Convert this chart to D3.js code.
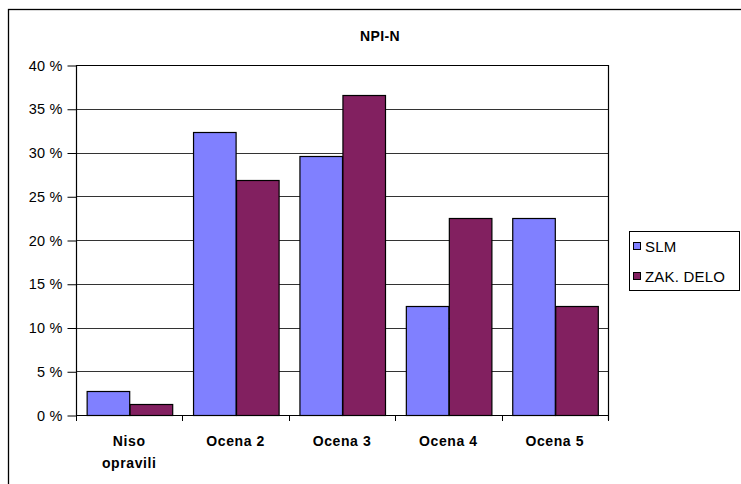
<!DOCTYPE html>
<head>
  <meta charset="utf-8">
  <script src="https://d3js.org/d3.v7.min.js"></script>
  <style>
    body { margin: 0; background: #fff; font-family: Arial, "Liberation Sans", sans-serif; }
    .title { font-size: 14px; font-weight: bold; letter-spacing: 0.4px; }
    .ytick { font-size: 14.5px; letter-spacing: 0.2px; }
    .xlabel { font-size: 14px; font-weight: bold; letter-spacing: 0.6px; }
    .legend text { font-size: 15px; letter-spacing: 0.2px; }
  </style>
</head>
<body>
  <div id="vis"></div>
  <script>
    // data
    var categories = [["Niso", "opravili"], ["Ocena 2"], ["Ocena 3"], ["Ocena 4"], ["Ocena 5"]];
    var seriesNames = ["SLM", "ZAK. DELO"];
    var slm = [2.7, 32.4, 29.6, 12.5, 22.5];
    var zakDelo = [1.3, 26.9, 36.6, 22.5, 12.5];
    var yTicks = [0, 5, 10, 15, 20, 25, 30, 35, 40];
    var colors = ["#8080ff", "#822060"];

    var width = 741, height = 484;
    var plot = { left: 76, right: 608, top: 65, bottom: 415 };

    var svg = d3.select("#vis").append("svg")
      .attr("width", width)
      .attr("height", height);

    // outer chart border
    svg.append("rect")
      .attr("x", 8.5).attr("y", 9.5)
      .attr("width", 800).attr("height", 600)
      .attr("fill", "#fff")
      .attr("stroke", "#000")
      .attr("stroke-width", 1.3);

    svg.append("text")
      .attr("class", "title")
      .attr("x", 380).attr("y", 41)
      .attr("text-anchor", "middle")
      .text("NPI-N");

    var x = d3.scaleBand()
      .domain(d3.range(categories.length))
      .range([plot.left, plot.right])
      .paddingInner(0.2)
      .paddingOuter(0.1);

    var xSub = d3.scaleBand()
      .domain(d3.range(seriesNames.length))
      .range([0, x.bandwidth()]);

    var y = d3.scaleLinear()
      .domain([0, 40])
      .range([plot.bottom, plot.top]);

    // gridlines
    svg.append("g")
      .selectAll("line")
      .data(yTicks.slice(1, -1))
      .enter().append("line")
      .attr("x1", plot.left).attr("x2", plot.right)
      .attr("y1", function (d) { return Math.round(y(d)) + 0.5; })
      .attr("y2", function (d) { return Math.round(y(d)) + 0.5; })
      .attr("stroke", "#333")
      .attr("stroke-width", 1);

    // y axis
    var yAxis = svg.append("g")
      .attr("transform", "translate(" + (plot.left + 0.5) + ",0.5)")
      .call(d3.axisLeft(y).tickValues(yTicks).tickSize(9).tickPadding(5)
        .tickFormat(function (d) { return d + " %"; }));
    yAxis.select(".domain").remove();
    yAxis.selectAll("line").attr("stroke", "#000");
    yAxis.selectAll("text").attr("class", "ytick").attr("fill", "#000")
      .attr("font-family", null).attr("font-size", null);
    yAxis.attr("font-family", null).attr("font-size", null);

    // bars
    var data = categories.map(function (c, i) { return [slm[i], zakDelo[i]]; });
    var groups = svg.append("g")
      .selectAll("g")
      .data(data)
      .enter().append("g")
      .attr("transform", function (d, i) { return "translate(" + x(i) + ",0)"; });

    groups.selectAll("rect")
      .data(function (d) { return d; })
      .enter().append("rect")
      .attr("x", function (d, j) { return Math.round(xSub(j)) + 0.5; })
      .attr("y", function (d) { return Math.round(y(d)) + 0.5; })
      .attr("width", xSub.bandwidth())
      .attr("height", function (d) { return Math.round(y(0)) - Math.round(y(d)); })
      .attr("fill", function (d, j) { return colors[j]; })
      .attr("stroke", "#000")
      .attr("stroke-width", 1.2);

    // plot frame: top, right and left lines, bottom axis
    svg.append("path")
      .attr("d", "M" + (plot.left + 0.5) + "," + (plot.bottom + 0.5) +
        "V" + (plot.top + 0.5) + "H" + (plot.right + 0.5) + "V" + (plot.bottom + 5))
      .attr("fill", "none")
      .attr("stroke", "#000")
      .attr("stroke-width", 1.2);

    // x axis with ticks between categories
    var xBounds = d3.range(categories.length + 1).map(function (i) {
      return plot.left + i * x.step();
    });
    var xAxis = svg.append("g");
    xAxis.append("line")
      .attr("x1", plot.left).attr("x2", plot.right + 1)
      .attr("y1", plot.bottom + 0.5).attr("y2", plot.bottom + 0.5)
      .attr("stroke", "#000").attr("stroke-width", 1.2);
    xAxis.selectAll(".xt")
      .data(xBounds)
      .enter().append("line")
      .attr("class", "xt")
      .attr("x1", function (d) { return Math.round(d) + 0.5; })
      .attr("x2", function (d) { return Math.round(d) + 0.5; })
      .attr("y1", plot.bottom).attr("y2", plot.bottom + 6)
      .attr("stroke", "#000");

    var labels = xAxis.selectAll(".xlabel")
      .data(categories)
      .enter().append("text")
      .attr("class", "xlabel")
      .attr("text-anchor", "middle")
      .attr("x", function (d, i) { return x(i) + x.bandwidth() / 2; })
      .attr("y", 446);
    labels.selectAll("tspan")
      .data(function (d) { return d; })
      .enter().append("tspan")
      .attr("x", function () { return d3.select(this.parentNode).attr("x"); })
      .attr("dy", function (d, k) { return k === 0 ? 0 : 22; })
      .text(function (d) { return d; });

    // legend
    var legend = svg.append("g").attr("class", "legend");
    legend.append("rect")
      .attr("x", 629.5).attr("y", 231.5)
      .attr("width", 110).attr("height", 59)
      .attr("fill", "#fff")
      .attr("stroke", "#000");
    var items = legend.selectAll(".item")
      .data(seriesNames)
      .enter().append("g")
      .attr("class", "item")
      .attr("transform", function (d, i) { return "translate(633," + (246 + i * 30) + ")"; });
    items.append("rect")
      .attr("x", 0.5).attr("y", -3.5)
      .attr("width", 7).attr("height", 7)
      .attr("fill", function (d, i) { return colors[i]; })
      .attr("stroke", "#000");
    items.append("text")
      .attr("x", 12).attr("y", 5.5)
      .text(function (d) { return d; });
  </script>
</body>
